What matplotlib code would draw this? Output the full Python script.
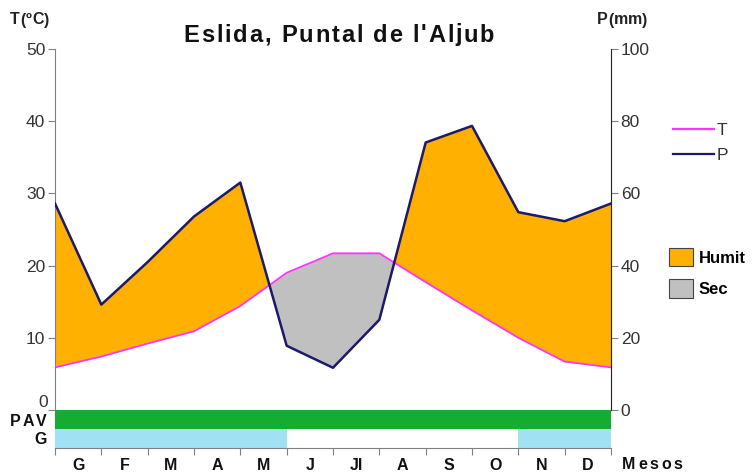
import numpy as np
import matplotlib
matplotlib.use("Agg")
import matplotlib.pyplot as plt
from matplotlib.lines import Line2D
from matplotlib.patches import Patch
from matplotlib.font_manager import FontProperties

plt.rcParams['font.family'] = ['Liberation Sans', 'DejaVu Sans']

# monthly climate data, January repeated at the end to close the year
mesos = ['G', 'F', 'M', 'A', 'M', 'J', 'Jl', 'A', 'S', 'O', 'N', 'D']
temp = np.array([5.9, 7.4, 9.2, 10.9, 14.4, 19.0, 21.7, 21.7, 17.7, 13.8, 10.0, 6.7, 5.9])
precip = np.array([57.2, 29.2, 41.0, 53.6, 63.0, 17.8, 11.7, 25.0, 74.1, 78.7, 54.8, 52.3, 57.2])
pav = [1] * 12
gelades = [1, 1, 1, 1, 1, 0, 0, 0, 0, 0, 1, 1]

c_humit = '#ffb000'
c_sec = '#c0c0c0'
c_temp = '#ff33ff'
c_prec = '#1c1a6a'
c_pav = '#14ad32'
c_gel = '#a0e1f3'
grey = '#808080'
txt = '#333333'

W, H = 752, 473
fig = plt.figure(figsize=(W / 100, H / 100), dpi=100)
renderer = fig.canvas.get_renderer()


def spaced_text(x_px, y_px, s, size, gap, ha='left', color='#111111'):
    # draws text letter by letter with extra spacing (pixels)
    prop = FontProperties(family='Liberation Sans', weight='bold', size=size)
    widths = [renderer.get_text_width_height_descent(c, prop, ismath=False)[0]
              if c != ' ' else renderer.get_text_width_height_descent('a a', prop, ismath=False)[0]
              - 2 * renderer.get_text_width_height_descent('a', prop, ismath=False)[0]
              for c in s]
    total = sum(widths) + gap * (len(s) - 1)
    x0 = x_px
    if ha == 'center':
        x0 = x_px - total / 2
    elif ha == 'right':
        x0 = x_px - total
    for c, w in zip(s, widths):
        fig.text(x0 / W, 1 - y_px / H, c, fontproperties=prop, color=color,
                 ha='left', va='center')
        x0 += w + gap


# main diagram: T on the left, P on the right (P = 2T)
ax = fig.add_axes([55 / W, (H - 410) / H, 556 / W, 361 / H])
ax.set_xlim(0, 12)
ax.set_ylim(0, 50)
x = np.arange(len(temp))
p_scaled = precip / 2.0
ax.fill_between(x, temp, p_scaled, where=p_scaled >= temp, interpolate=True,
                color=c_humit, linewidth=0)
ax.fill_between(x, temp, p_scaled, where=p_scaled <= temp, interpolate=True,
                color=c_sec, linewidth=0)
ax.plot(x, temp, color=c_temp, lw=1.3, zorder=3)

ax2 = ax.twinx()
ax2.set_ylim(0, 100)
ax2.plot(x, precip, color=c_prec, lw=1.8, zorder=4)

for s in ['top', 'bottom', 'right']:
    ax.spines[s].set_visible(False)
ax.spines['left'].set_color(grey)
ax.set_xticks([])
ax.set_yticks([0, 10, 20, 30, 40, 50])
ax.set_yticklabels(['', '10', '20', '30', '40', '50'])
ax.tick_params(axis='y', colors=grey, labelcolor=txt, labelsize=12.5,
               length=5, pad=2)
ax.text(-0.012, 1.1, '0', transform=ax.get_yaxis_transform(), ha='right',
        va='center', fontsize=12.5, color=txt)

for s in ['top', 'bottom', 'left']:
    ax2.spines[s].set_visible(False)
ax2.spines['right'].set_color('#222222')
ax2.set_yticks([0, 20, 40, 60, 80, 100])
ax2.tick_params(axis='y', colors=grey, labelcolor=txt, labelsize=12.5,
                length=5, pad=2)

spaced_text(10, 20, 'T(ºC)', 11.5, 0.4, color='#222222')
spaced_text(597, 20, 'P(mm)', 11.5, 0.2, color='#222222')
spaced_text(339, 35, "Eslida, Puntal de l'Aljub", 17, 1.8, ha='center')

# legends
line_handles = [Line2D([], [], color=c_temp, lw=1.6), Line2D([], [], color=c_prec, lw=1.6)]
leg1 = fig.legend(line_handles, ['T', 'P'], loc='upper left',
                  bbox_to_anchor=(657 / W, 1 - 107 / H), frameon=False,
                  fontsize=12.5, handlelength=2.4, handletextpad=0.15,
                  labelspacing=0.6, labelcolor=txt)
patch_handles = [Patch(facecolor=c_humit, edgecolor='#444444', lw=0.8),
                 Patch(facecolor=c_sec, edgecolor='#444444', lw=0.8)]
leg2 = fig.legend(patch_handles, ['Humit', 'Sec'], loc='upper left',
                  bbox_to_anchor=(654 / W, 1 - 233 / H), frameon=False,
                  prop={'size': 12, 'weight': 'bold'}, handlelength=1.45,
                  handleheight=1.3, handletextpad=0.35, labelspacing=0.8)

# PAV and frost strips
axb = fig.add_axes([55 / W, (H - 448) / H, 556 / W, 38 / H])
axb.set_xlim(0, 12)
axb.set_ylim(0, 2)
xm = np.arange(12) + 0.5
axb.bar(xm, pav, width=1.0, bottom=1, color=c_pav, linewidth=0)
axb.bar(xm, gelades, width=1.0, bottom=0, color=c_gel, linewidth=0)
for s in ['top', 'left', 'right']:
    axb.spines[s].set_visible(False)
axb.spines['bottom'].set_color(grey)
axb.set_yticks([])
axb.set_xticks(np.arange(13))
axb.set_xticklabels([])
axb.tick_params(axis='x', which='major', colors=grey, length=5)
axb.set_xticks(xm, minor=True)
axb.set_xticklabels(mesos, minor=True, fontsize=11.5, fontweight='bold')
axb.tick_params(axis='x', which='minor', length=0, pad=7, labelcolor='#111111')

spaced_text(47, 421, 'PAV', 11.5, 2.0, ha='right')
spaced_text(47, 439, 'G', 11.5, 0, ha='right')
spaced_text(622, 464, 'Mesos', 11.5, 2.6)

fig.savefig('out.png', dpi=100)
